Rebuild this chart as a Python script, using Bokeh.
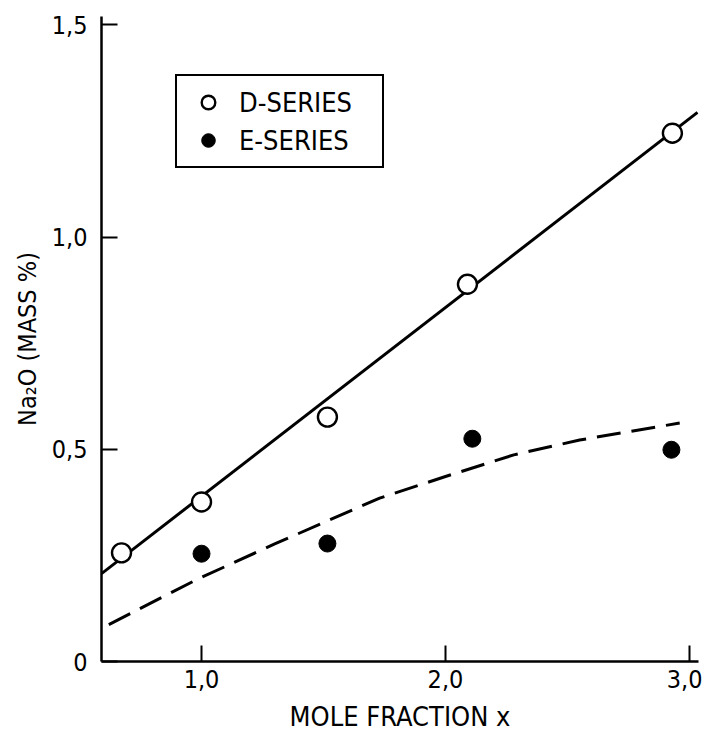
from bokeh.plotting import figure
from bokeh.models import Range1d, FixedTicker, Legend, LegendItem
from bokeh.embed import file_html
from bokeh.resources import INLINE

# D-series (open circles)
d_x = [0.672, 1.00, 1.516, 2.09, 2.93]
d_y = [0.256, 0.376, 0.576, 0.889, 1.245]
# E-series (filled circles)
e_x = [1.00, 1.516, 2.11, 2.926]
e_y = [0.254, 0.278, 0.525, 0.499]
# solid fit line through D-series
fit_d_x = [0.59, 3.033]
fit_d_y = [0.207, 1.294]
# dashed curve through E-series
fit_e_x = [0.62, 0.98, 1.30, 1.73, 2.00, 2.28, 2.55, 2.96]
fit_e_y = [0.087, 0.193, 0.277, 0.385, 0.436, 0.487, 0.522, 0.562]

x_ticks = [1.0, 2.0, 3.0]
x_tick_labels = ["1,0", "2,0", "3,0"]
y_ticks = [0.0, 0.5, 1.0, 1.5]
y_tick_labels = ["0", "0,5", "1,0", "1,5"]

FONT = "DejaVu Sans Condensed"

p = figure(width=702, height=734, output_backend="svg", toolbar_location=None,
           x_range=Range1d(0.59, 3.037), y_range=Range1d(0, 1.52),
           min_border_left=101, min_border_right=4, min_border_top=16, min_border_bottom=72)
p.outline_line_color = None
p.grid.visible = False
p.background_fill_color = "white"
p.border_fill_color = "white"

for ax in (p.xaxis[0], p.yaxis[0]):
    ax.axis_line_width = 2.5
    ax.axis_line_color = "black"
    ax.major_tick_in = 16
    ax.major_tick_out = 0
    ax.major_tick_line_width = 2
    ax.minor_tick_line_color = None
    ax.major_label_text_font = FONT
    ax.major_label_text_font_size = "25px"
    ax.major_label_text_color = "black"
    ax.axis_label_text_font = FONT
    ax.axis_label_text_font_style = "normal"
    ax.axis_label_text_color = "black"

p.xaxis.ticker = FixedTicker(ticks=x_ticks)
p.xaxis.major_label_overrides = dict(zip(x_ticks, x_tick_labels))
p.yaxis.ticker = FixedTicker(ticks=y_ticks)
p.yaxis.major_label_overrides = dict(zip(y_ticks, y_tick_labels))
p.xaxis.axis_label = "MOLE FRACTION x"
p.yaxis.axis_label = "Na\u2082O (MASS %)"
p.xaxis.axis_label_text_font_size = "27px"
p.yaxis.axis_label_text_font_size = "25px"
p.xaxis.major_label_standoff = 8
p.yaxis.major_label_standoff = 14
p.xaxis.axis_label_standoff = 10
p.yaxis.axis_label_standoff = 7

p.line(fit_d_x, fit_d_y, line_color="black", line_width=3)
p.line(fit_e_x, fit_e_y, line_color="black", line_width=3, line_dash="24 11")

rd = p.scatter(d_x, d_y, size=19, marker="circle", fill_color="white",
               line_color="black", line_width=2.4)
re = p.scatter(e_x, e_y, size=17, marker="circle", fill_color="black",
               line_color="black", line_width=1)

legend = Legend(items=[LegendItem(label="D-SERIES", renderers=[rd]),
                       LegendItem(label="E-SERIES", renderers=[re])],
                location=(74, 493))
legend.border_line_color = "black"
legend.border_line_alpha = 1
legend.border_line_width = 2
legend.background_fill_color = "white"
legend.background_fill_alpha = 1
legend.label_text_font = FONT
legend.label_text_font_size = "27px"
legend.label_text_color = "black"
legend.glyph_width = 44
legend.glyph_height = 34
legend.label_height = 34
legend.label_width = 134
legend.label_standoff = 9
legend.spacing = 4
legend.padding = 9
legend.margin = 0
p.add_layout(legend, "center")

open("out.html", "w").write(file_html(p, INLINE))
